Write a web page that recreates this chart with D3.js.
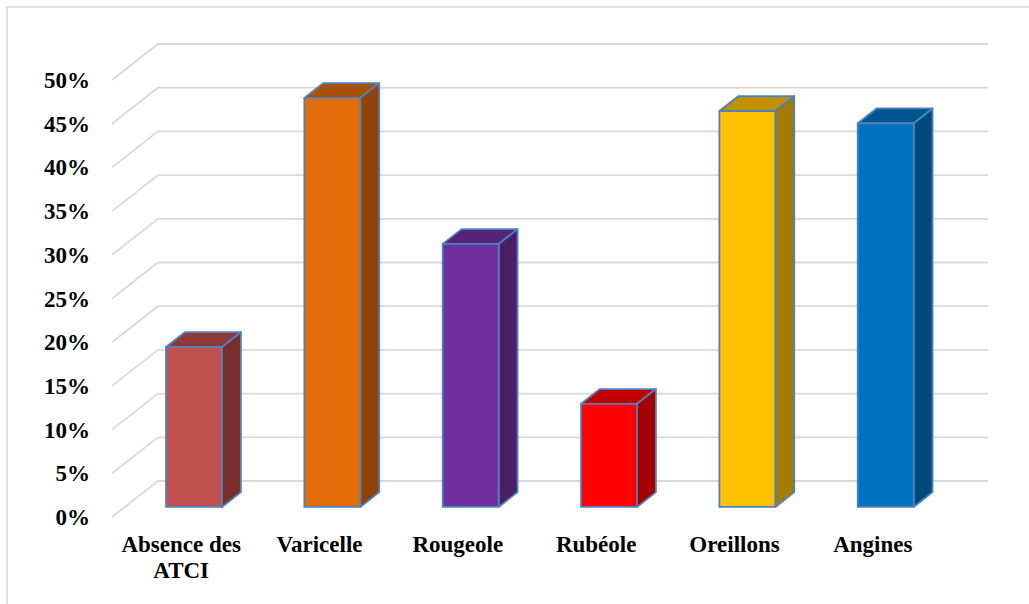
<!DOCTYPE html>
<html>
<head>
<meta charset="utf-8">
<script src="https://cdn.jsdelivr.net/npm/d3@7"></script>
<style>
  html, body { margin: 0; padding: 0; background: #fff; }
  svg { display: block; }
</style>
</head>
<body>
<svg id="chart" width="1029" height="604"></svg>
<script>
// Categories and their percentages
const categories = ["Absence des ATCI", "Varicelle", "Rougeole", "Rubéole", "Oreillons", "Angines"];
const values = [18.3, 46.8, 30.1, 11.8, 45.3, 43.9];
const tickValues = [0, 5, 10, 15, 20, 25, 30, 35, 40, 45, 50];

// Face colours per bar: front, top, side
const frontColors = ["#C0504D", "#E36C0A", "#7030A0", "#FF0000", "#FFC000", "#0070C0"];
const topColors   = ["#8E3A38", "#A8510A", "#54247A", "#C00000", "#C09000", "#005590"];
const sideColors  = ["#7A2E2C", "#8F4408", "#4A1F66", "#A30000", "#A07C00", "#004A7E"];

const FONT = "'Liberation Serif', 'DejaVu Serif', serif";

const svg = d3.select("#chart");

// 3D projection: floor front-left corner, plot width and depth vector
const originX = 112, originY = 517;
const plotW = 830;
const depthX = 46, depthY = -36;
const d0 = 0.28, d1 = 0.69;  // bar front/back as fractions of floor depth

const x = d3.scaleBand().domain(categories).range([0, plotW]).paddingInner(0).paddingOuter(0);
const y = d3.scaleLinear().domain([0, 50]).range([0, 437]);

// Outer chart frame
svg.append("rect")
  .attr("x", 7).attr("y", 7).attr("width", 1060).attr("height", 640)
  .attr("fill", "none").attr("stroke", "#D9D9D9").attr("stroke-width", 1.5);

// Gridlines: floor diagonal then along the back wall
svg.append("g").selectAll("path").data(tickValues).join("path")
  .attr("d", v => {
    const yf = originY - y(v);
    return `M${originX},${yf}L${originX + depthX},${yf + depthY}L${originX + depthX + plotW},${yf + depthY}`;
  })
  .attr("fill", "none").attr("stroke", "#D9D9D9").attr("stroke-width", 1.8);

// Y tick labels
svg.append("g")
  .attr("font-family", FONT).attr("font-weight", "bold").attr("font-size", 23)
  .selectAll("text").data(tickValues).join("text")
  .attr("x", 90).attr("y", v => originY - y(v)).attr("dy", "0.35em")
  .attr("text-anchor", "end")
  .style("font-family", FONT)
  .text(v => v + "%");

// Bars
const barW = 56;
const bars = svg.append("g").selectAll("g").data(categories.map((c, i) => ({ c, i, v: values[i] }))).join("g");
const pts = d => {
  const xl = originX + x(d.c) + (x.bandwidth() - barW) / 2 + d0 * depthX;
  const yb = originY + d0 * depthY;
  const xr = xl + barW;
  const yt = yb - y(d.v);
  const ddx = (d1 - d0) * depthX, ddy = (d1 - d0) * depthY;
  return { xl, xr, yb, yt, ddx, ddy };
};
const strokeCol = "#4F81BD";
bars.append("path")
  .attr("d", d => { const p = pts(d); return `M${p.xl},${p.yt}L${p.xl + p.ddx},${p.yt + p.ddy}L${p.xr + p.ddx},${p.yt + p.ddy}L${p.xr},${p.yt}Z`; })
  .attr("fill", d => topColors[d.i]);
bars.append("path")
  .attr("d", d => { const p = pts(d); return `M${p.xr},${p.yt}L${p.xr + p.ddx},${p.yt + p.ddy}L${p.xr + p.ddx},${p.yb + p.ddy}L${p.xr},${p.yb}Z`; })
  .attr("fill", d => sideColors[d.i]);
bars.append("path")
  .attr("d", d => { const p = pts(d); return `M${p.xl},${p.yt}L${p.xr},${p.yt}L${p.xr},${p.yb}L${p.xl},${p.yb}Z`; })
  .attr("fill", d => frontColors[d.i]);
bars.selectAll("path")
  .attr("stroke", strokeCol).attr("stroke-width", 1.8).attr("stroke-linejoin", "round");

// Category labels (wrapped to two lines where needed)
const labels = svg.append("g")
  .attr("font-family", FONT).attr("font-weight", "bold").attr("font-size", 23)
  .selectAll("text").data(categories).join("text")
  .attr("x", c => originX + x(c) + x.bandwidth() / 2)
  .attr("y", 552)
  .attr("text-anchor", "middle")
  .style("font-family", FONT);
labels.each(function(c) {
  const t = d3.select(this);
  const lines = c === "Absence des ATCI" ? ["Absence des", "ATCI"] : [c];
  lines.forEach((ln, k) => {
    t.append("tspan").attr("x", t.attr("x")).attr("dy", k === 0 ? 0 : 26).text(ln);
  });
});
</script>
</body>
</html>
